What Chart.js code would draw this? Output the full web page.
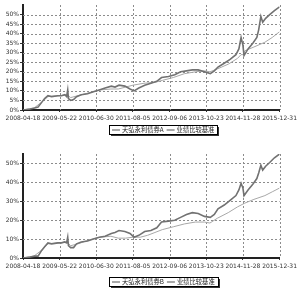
<!DOCTYPE html>
<html><head><meta charset="utf-8">
<script src="https://cdn.jsdelivr.net/npm/chart.js@4.4.0/dist/chart.umd.min.js"></script>
<style>
html,body{margin:0;padding:0;background:#fff;width:300px;height:289px;overflow:hidden}
#w1{position:absolute;left:0;top:0;width:300px;height:145px}
#w2{position:absolute;left:0;top:145px;width:300px;height:144px}
</style></head><body>
<div id="w1"><canvas id="c1"></canvas></div>
<div id="w2"><canvas id="c2"></canvas></div>
<script>
const dateLabels = ['2008-04-18','2009-05-22','2010-06-30','2011-08-05','2012-09-06','2013-10-23','2014-11-28','2015-12-31'];
const seriesNamesTop = ['天弘永利债券A','业绩比较基准'];
const seriesNamesBottom = ['天弘永利债券B','业绩比较基准'];

// x = position along the date axis (in label-interval units), y = cumulative return %
const fundAX = [0,0.19,0.32,0.41,0.51,0.59,0.68,0.78,0.95,1.05,1.14,1.19,1.22,1.24,1.30,1.38,1.46,1.59,1.76,1.92,2.08,2.24,2.41,2.51,2.62,2.78,2.92,3.03,3.16,3.32,3.49,3.65,3.78,3.97,4.14,4.30,4.46,4.62,4.78,4.95,5.11,5.22,5.32,5.49,5.65,5.81,5.89,5.95,6.0,6.03,6.14,6.27,6.38,6.43,6.49,6.54,6.62,6.73,6.86,7.0];
const fundAY = [0,0.5,1,1.5,4,6,7.5,7,7.5,7.5,8,7,10.5,6,5,5.5,7,8,8.5,9.5,10.5,11.5,12.5,12,13,12.5,11,10,11.5,13,14,15,17,17.5,18.5,20,20.5,21,21,20,19,20.5,22.5,24.5,26.5,29,32,38,34,28.5,32,35,38,42,49,46,48,50,52,54];
const benchAX = [0,0.3,0.5,0.68,1.0,1.2,1.3,1.5,1.8,2.1,2.4,2.6,2.8,3.0,3.3,3.6,3.8,4.1,4.4,4.7,4.95,5.1,5.3,5.6,5.85,5.95,6.02,6.05,6.3,6.6,6.8,7.0];
const benchAY = [0,1,4,7,7.5,8,6.5,7.5,9,10.5,11,11,12,13,14,14.5,15.5,17,19,20,20.5,20,21.5,24,27,29,29,31,33,35.5,38,41];

const fundBX = fundAX;
const fundBY = [0,0.5,1,1,4,6,8,7.5,8,8,8.5,8,11,6.5,5.5,5.5,7.5,8.5,9,10,11,11.5,13,13.5,14.5,14,13,11,12,14,14.5,16,19,19.5,20,21.5,23,24,23.5,22,21.5,23,26,28,30.5,33,36,39.5,37,33,36,39,42,45,49,46.5,48.5,50.5,53,55];
const benchBX = [0,0.3,0.5,0.68,1.0,1.2,1.3,1.5,1.8,2.1,2.4,2.6,2.8,3.0,3.2,3.4,3.6,3.8,4.1,4.4,4.7,4.95,5.1,5.3,5.6,5.85,6.0,6.05,6.3,6.6,6.8,7.0];
const benchBY = [0,1,4,7.5,8,8.5,6.5,7.5,9.5,11,11.5,10.5,10.5,11,11,12,13.5,15,16.5,18,19,19,18.5,21,24,27,28.5,29,31,33,35,37];

const yTopMax = 55, yTopTickMax = 50;
const yBotMax = 55, yBotTickMax = 55;

function pts(xs, ys){ return xs.map((x,i)=>({x:x, y:ys[i]})); }

const tickFont = {family:'"DejaVu Sans", sans-serif', size:6};

const gridPlugin = {
  id:'dashGrid',
  beforeDatasetsDraw(chart){
    const {ctx, chartArea:a, scales} = chart;
    ctx.save();
    ctx.strokeStyle = '#8c8c8c'; ctx.lineWidth = 1; ctx.setLineDash([2,2]);
    scales.y.ticks.forEach(t=>{
      if (t.value === 0) return;
      const y = Math.round(scales.y.getPixelForValue(t.value)) + 0.5;
      ctx.beginPath(); ctx.moveTo(a.left, y); ctx.lineTo(a.right, y); ctx.stroke();
    });
    scales.x.ticks.forEach(t=>{
      if (t.value === 0) return;
      const x = Math.round(scales.x.getPixelForValue(t.value)) + 0.5;
      ctx.beginPath(); ctx.moveTo(x, a.top); ctx.lineTo(x, a.bottom); ctx.stroke();
    });
    ctx.restore();
  }
};

function legendPlugin(names, off){
  return {
    id:'boxLegend',
    afterDraw(chart){
      const ctx = chart.ctx;
      const cx = 163;
      const y = chart.chartArea.bottom + off;
      ctx.save();
      ctx.font = '6.3px "Noto Sans CJK SC", sans-serif';
      const w1 = ctx.measureText(names[0]).width, w2 = ctx.measureText(names[1]).width;
      const total = 8 + 2 + w1 + 3 + 8 + 2 + w2;
      const bx = Math.round(cx - total/2 - 3), bw = Math.round(total + 6);
      const by = Math.round(y - 4.5), bh = 9;
      ctx.fillStyle = '#333';
      ctx.fillRect(bx+2, by+2, bw, bh);
      ctx.fillStyle = '#fff';
      ctx.fillRect(bx, by, bw, bh);
      ctx.strokeStyle = '#000'; ctx.lineWidth = 1;
      ctx.strokeRect(bx+0.5, by+0.5, bw, bh);
      let x = bx + 3;
      const ly = by + 5;
      ctx.strokeStyle = '#555';
      ctx.beginPath(); ctx.moveTo(x, ly); ctx.lineTo(x+8, ly); ctx.stroke();
      x += 10;
      ctx.fillStyle = '#222'; ctx.textBaseline = 'middle';
      ctx.fillText(names[0], x, ly);
      x += w1 + 3;
      ctx.beginPath(); ctx.moveTo(x, ly); ctx.lineTo(x+8, ly); ctx.stroke();
      x += 10;
      ctx.fillText(names[1], x, ly);
      ctx.restore();
    }
  };
}

function makeChart(id, fx, fy, bx, by, labels, names, yMax, yTickMax, padTop, xH, legOff){
  return new Chart(document.getElementById(id), {
    type:'line',
    data:{datasets:[
      {label:names[0], data:pts(fx,fy), borderColor:'#727272', borderWidth:1.6, pointRadius:0, tension:0},
      {label:names[1], data:pts(bx,by), borderColor:'#a8a8a8', borderWidth:1, pointRadius:0, tension:0}
    ]},
    options:{
      responsive:true, maintainAspectRatio:false, animation:false,
      layout:{padding:{left:0,right:18,top:padTop,bottom:0}},
      plugins:{legend:{display:false}, tooltip:{enabled:false}},
      scales:{
        x:{type:'linear', min:0, max:7,
          afterBuildTicks(s){ s.ticks = labels.map((l,i)=>({value:i})); },
          afterFit(s){ s.height = xH; },
          ticks:{stepSize:1, autoSkip:false, maxRotation:0, color:'#333', font:tickFont, padding:3,
            callback:(v)=>labels[Math.round(v)]},
          grid:{drawOnChartArea:false, drawTicks:true, tickLength:2, tickColor:'#333', lineWidth:1},
          border:{display:true, color:'#222', width:2}
        },
        y:{min:0, max:yMax,
          afterBuildTicks(s){ const t=[]; for(let v=0; v<=yTickMax; v+=5) t.push({value:v}); s.ticks=t; },
          afterFit(s){ s.width = 23; },
          ticks:{stepSize:5, color:'#333', font:tickFont, padding:1, callback:(v)=>v+'%'},
          grid:{drawOnChartArea:false, drawTicks:true, tickLength:3, tickColor:'#333', lineWidth:1},
          border:{display:true, color:'#222', width:2}
        }
      }
    },
    plugins:[gridPlugin, legendPlugin(names, legOff)]
  });
}

makeChart('c1', fundAX, fundAY, benchAX, benchAY, dateLabels, seriesNamesTop, yTopMax, yTopTickMax, 5, 35, 19);
makeChart('c2', fundBX, fundBY, benchBX, benchBY, dateLabels, seriesNamesBottom, yBotMax, yBotTickMax, 9, 31, 23);
</script>
</body></html>
